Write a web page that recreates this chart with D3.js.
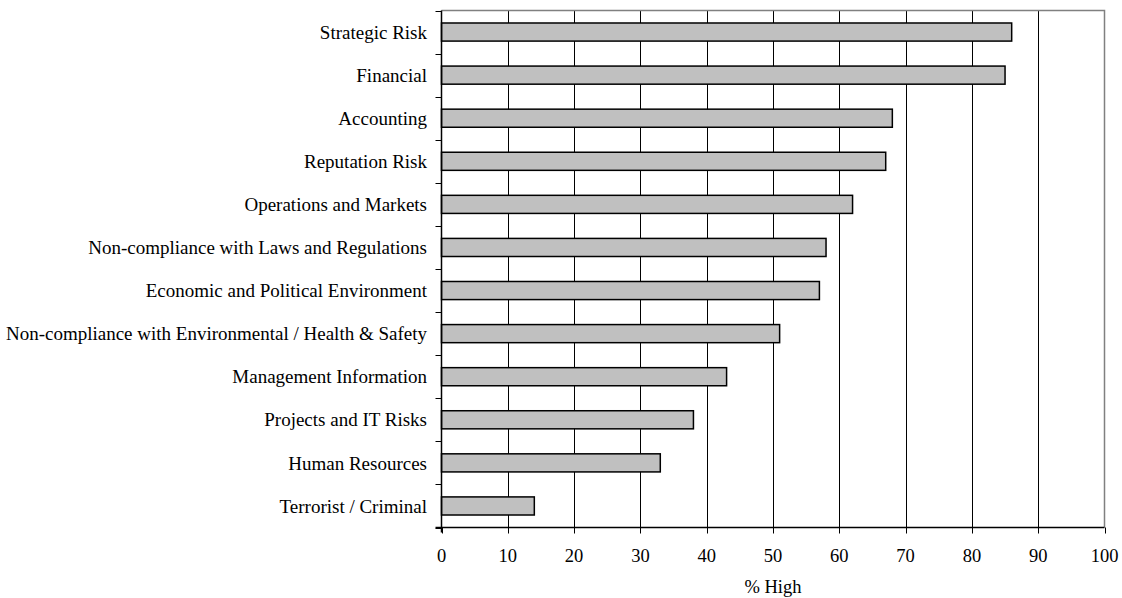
<!DOCTYPE html>
<html>
<head>
<meta charset="utf-8">
<script src="https://cdn.jsdelivr.net/npm/d3@7"></script>
<style>
  body { margin: 0; background: #fff; }
  svg { display: block; }
</style>
</head>
<body>
<svg width="1122" height="598"></svg>
<script>
var categories = [
  'Strategic Risk',
  'Financial',
  'Accounting',
  'Reputation Risk',
  'Operations and Markets',
  'Non-compliance with Laws and Regulations',
  'Economic and Political Environment',
  'Non-compliance with Environmental / Health & Safety',
  'Management Information',
  'Projects and IT Risks',
  'Human Resources',
  'Terrorist / Criminal'
];
var highPct = [86, 85, 68, 67, 62, 58, 57, 51, 43, 38, 33, 14];
var xTicks = [0, 10, 20, 30, 40, 50, 60, 70, 80, 90, 100];
var xTitle = '% High';

var svg = d3.select('svg').style('font-family', '"Liberation Serif", "Times New Roman", serif');
var plotLeft = 441.5, plotRight = 1104.5, plotTop = 10.5, plotBottom = 527.5;

var x = d3.scaleLinear().domain([0, 100]).range([plotLeft, plotRight]);
var y = d3.scaleBand().domain(categories).range([plotTop, plotBottom]).paddingInner(0.58).paddingOuter(0.29);
var yEdge = d3.scaleLinear().domain([0, categories.length]).range([plotTop, plotBottom]);

// gridlines
svg.append('g').selectAll('line').data(xTicks.slice(1, -1)).enter().append('line')
  .attr('x1', function(d) { return Math.round(x(d)) + 0.5; })
  .attr('x2', function(d) { return Math.round(x(d)) + 0.5; })
  .attr('y1', plotTop).attr('y2', plotBottom)
  .style('stroke', '#000').style('stroke-width', 1);

// plot border (top + right), grey
svg.append('path')
  .attr('d', 'M' + plotLeft + ',' + plotTop + 'H' + plotRight + 'V' + plotBottom)
  .style('fill', 'none').style('stroke', '#808080').style('stroke-width', 1.5);

// bars
svg.append('g').selectAll('rect').data(categories).enter().append('rect')
  .attr('x', x(0))
  .attr('y', function(d) { return y(d); })
  .attr('width', function(d, i) { return x(highPct[i]) - x(0); })
  .attr('height', y.bandwidth())
  .style('fill', '#c0c0c0').style('stroke', '#000').style('stroke-width', 1.5);

// y axis line and ticks
svg.append('line').attr('x1', plotLeft).attr('x2', plotLeft).attr('y1', plotTop).attr('y2', plotBottom + 5)
  .style('stroke', '#000').style('stroke-width', 1.5);
svg.append('g').selectAll('line').data(d3.range(categories.length + 1)).enter().append('line')
  .attr('x1', plotLeft - 6).attr('x2', plotLeft)
  .attr('y1', function(d) { return Math.round(yEdge(d)) + 0.5; })
  .attr('y2', function(d) { return Math.round(yEdge(d)) + 0.5; })
  .style('stroke', '#000').style('stroke-width', 1);

svg.append('g').selectAll('text').data(categories).enter().append('text')
  .attr('x', 427)
  .attr('y', function(d) { return y(d) + y.bandwidth() / 2; })
  .attr('dy', '0.35em')
  .attr('text-anchor', 'end')
  .style('font-size', '19px')
  .text(function(d) { return d; });

// x axis
svg.append('line').attr('x1', plotLeft - 6).attr('x2', plotRight).attr('y1', plotBottom).attr('y2', plotBottom)
  .style('stroke', '#000').style('stroke-width', 1.5);
svg.append('g').selectAll('line').data(xTicks).enter().append('line')
  .attr('x1', function(d) { return Math.round(x(d)) + 0.5; })
  .attr('x2', function(d) { return Math.round(x(d)) + 0.5; })
  .attr('y1', plotBottom).attr('y2', plotBottom + 6)
  .style('stroke', '#000').style('stroke-width', 1);
svg.append('g').selectAll('text').data(xTicks).enter().append('text')
  .attr('x', function(d) { return x(d); })
  .attr('y', 562)
  .attr('text-anchor', 'middle')
  .style('font-size', '18.5px')
  .text(function(d) { return d; });

svg.append('text')
  .attr('x', (plotLeft + plotRight) / 2)
  .attr('y', 593)
  .attr('text-anchor', 'middle')
  .style('font-size', '18.5px')
  .text(xTitle);
</script>
</body>
</html>
